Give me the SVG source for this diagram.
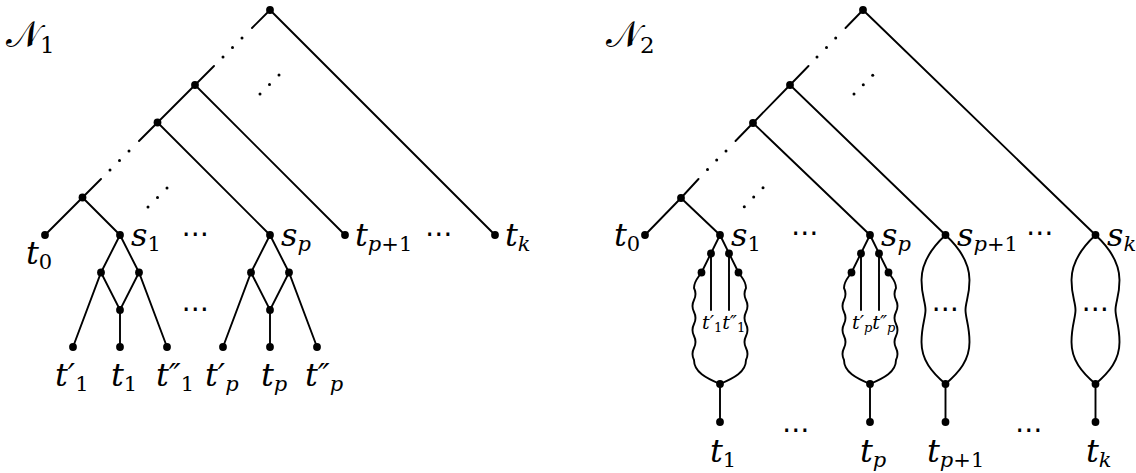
<svg xmlns="http://www.w3.org/2000/svg" width="1136" height="473" viewBox="0 0 1136 473">
<defs>
<style>
.e{stroke:#000;stroke-width:1.9;fill:none;stroke-linecap:round}
.n{fill:#000}
.m{font-family:'DejaVu Serif',serif;font-style:italic;font-size:32px;fill:#000}
.sm{font-family:'DejaVu Serif',serif;font-style:italic;font-size:19px;fill:#000}
.u{font-style:normal}
.cd{font-family:'DejaVu Sans',sans-serif;font-size:28px;fill:#000;text-anchor:middle}
.cal{font-family:'DejaVu Serif','DejaVu Sans',serif;font-size:36px;fill:#000}
.cs{font-family:'DejaVu Serif',serif;font-style:normal;font-size:23px}
</style>
</defs>
<rect width="1136" height="473" fill="#fff"/>

<text class="cal" x="6" y="47">𝒩<tspan class="cs" dy="6">1</tspan></text>
<text class="cal" x="606" y="47">𝒩<tspan class="cs" dy="6">2</tspan></text>

<g id="connectors">
<path class="e" d="M270,10 L495,235 M270,10 L252,28 M214,66 L195,85 L345,235 M195,85 L157.5,122.5 L270,235 M157.5,122.5 L139,141 M101,179 L82.5,197.5 L45,235 M82.5,197.5 L120,235"/>
<path class="e" d="M120,235 L101,272.5 L73,347 M120,235 L139,272.5 L167,347 M101,272.5 L120,310 L139,272.5 M120,310 L120,347"/>
<path class="e" d="M270,235 L251,272.5 L223,347 M270,235 L289,272.5 L317,347 M251,272.5 L270,310 L289,272.5 M270,310 L270,347"/>
<path class="e" d="M863,10 L1095.5,235 M863,10 L845.5,28 M808.5,66 L790,85 L945.5,235 M790,85 L753,123 L870,235 M753,123 L735.5,141 M698.5,179 L681,198 L645,235 M681,198 L720,235"/>
<path class="e" d="M720,235 L701.5,272.5 M720,235 L738.5,272.5 M711,253.5 L711,310 M729,253.5 L729,310 M720,384 L720,422"/>
<path class="e" d="M701.5,272.5 C698,278 694,281 694,288 q3,6 0,12 q-3,6 0,12 q3,6 0,12 q-3,6 0,12 q3,6 0,12 q-3,6 0,12 C694,372 706,378 720,384"/>
<path class="e" d="M738.5,272.5 C742,278 746,281 746,288 q-3,6 0,12 q3,6 0,12 q-3,6 0,12 q3,6 0,12 q-3,6 0,12 q3,6 0,12 C746,372 734,378 720,384"/>
<path class="e" d="M870,235 L851.5,272.5 M870,235 L888.5,272.5 M861,253.5 L861,310 M879,253.5 L879,310 M870,384 L870,422"/>
<path class="e" d="M851.5,272.5 C848,278 844,281 844,288 q3,6 0,12 q-3,6 0,12 q3,6 0,12 q-3,6 0,12 q3,6 0,12 q-3,6 0,12 C844,372 856,378 870,384"/>
<path class="e" d="M888.5,272.5 C892,278 896,281 896,288 q-3,6 0,12 q3,6 0,12 q-3,6 0,12 q3,6 0,12 q-3,6 0,12 q3,6 0,12 C896,372 884,378 870,384"/>
<path class="e" d="M945.5,235 C931.5,248 921.5,262 921.5,280 C921.5,296 925.5,302 925.5,310 C925.5,318 921.5,326 921.5,342 C921.5,360 931.5,372 945.5,384 M945.5,235 C959.5,248 969.5,262 969.5,280 C969.5,296 965.5,302 965.5,310 C965.5,318 969.5,326 969.5,342 C969.5,360 959.5,372 945.5,384 L945.5,422"/>
<path class="e" d="M1095.5,235 C1081.5,248 1071.5,262 1071.5,280 C1071.5,296 1075.5,302 1075.5,310 C1075.5,318 1071.5,326 1071.5,342 C1071.5,360 1081.5,372 1095.5,384 M1095.5,235 C1109.5,248 1119.5,262 1119.5,280 C1119.5,296 1115.5,302 1115.5,310 C1115.5,318 1119.5,326 1119.5,342 C1119.5,360 1109.5,372 1095.5,384 L1095.5,422"/>
</g>

<g id="ellipsis-dots">
<circle class="n" cx="242" cy="38" r="1.5"/><circle class="n" cx="232.5" cy="47.5" r="1.5"/><circle class="n" cx="223" cy="57" r="1.5"/>
<circle class="n" cx="129" cy="151" r="1.5"/><circle class="n" cx="119.5" cy="160.5" r="1.5"/><circle class="n" cx="110" cy="170" r="1.5"/>
<circle class="n" cx="260" cy="94" r="1.5"/><circle class="n" cx="269.5" cy="84.5" r="1.5"/><circle class="n" cx="279" cy="75" r="1.5"/>
<circle class="n" cx="148" cy="207" r="1.5"/><circle class="n" cx="157.5" cy="197.5" r="1.5"/><circle class="n" cx="167" cy="188" r="1.5"/>
<circle class="n" cx="835.7" cy="38" r="1.5"/><circle class="n" cx="826.5" cy="47.5" r="1.5"/><circle class="n" cx="817" cy="57" r="1.5"/>
<circle class="n" cx="726" cy="151" r="1.5"/><circle class="n" cx="716.7" cy="160" r="1.5"/><circle class="n" cx="707.5" cy="169.5" r="1.5"/>
<circle class="n" cx="854" cy="94" r="1.5"/><circle class="n" cx="863.3" cy="84.7" r="1.5"/><circle class="n" cx="872.7" cy="75.3" r="1.5"/>
<circle class="n" cx="744.3" cy="206.7" r="1.5"/><circle class="n" cx="753.7" cy="197" r="1.5"/><circle class="n" cx="763" cy="187.7" r="1.5"/>
</g>

<g id="left-internal">
<circle class="n" cx="270" cy="10" r="3.9"/><circle class="n" cx="195" cy="85" r="3.9"/><circle class="n" cx="157.5" cy="122.5" r="3.9"/><circle class="n" cx="82.5" cy="197.5" r="3.9"/>
</g>
<g id="L-t0"><circle class="n" cx="45" cy="235" r="3.9"/><text class="m" x="26" y="264">t<tspan class="u" font-size="21" dy="5">0</tspan></text></g>
<g id="L-s1"><circle class="n" cx="120" cy="235" r="3.9"/><text class="m" x="131" y="246">s<tspan class="u" font-size="21" dy="5">1</tspan></text></g>
<g id="L-sp"><circle class="n" cx="270" cy="235" r="3.9"/><text class="m" x="281" y="246">s<tspan font-size="21" dy="5">p</tspan></text></g>
<g id="L-tp1"><circle class="n" cx="345" cy="235" r="3.9"/><text class="m" x="355" y="246">t<tspan font-size="21" dy="5">p</tspan><tspan class="u" font-size="21">+1</tspan></text></g>
<g id="L-tk"><circle class="n" cx="495" cy="235" r="3.9"/><text class="m" x="505" y="246">t<tspan font-size="21" dy="5">k</tspan></text></g>
<g id="L-g1">
<circle class="n" cx="101" cy="272.5" r="3.9"/><circle class="n" cx="139" cy="272.5" r="3.9"/><circle class="n" cx="120" cy="310" r="3.9"/>
<circle class="n" cx="73" cy="347" r="3.9"/><circle class="n" cx="120" cy="347" r="3.9"/><circle class="n" cx="167" cy="347" r="3.9"/>
<text class="m" x="55" y="386">t′<tspan class="u" font-size="21" dy="5">1</tspan></text>
<text class="m" x="111" y="386">t<tspan class="u" font-size="21" dy="5">1</tspan></text>
<text class="m" x="156" y="386">t″<tspan class="u" font-size="21" dy="5">1</tspan></text>
</g>
<g id="L-gp">
<circle class="n" cx="251" cy="272.5" r="3.9"/><circle class="n" cx="289" cy="272.5" r="3.9"/><circle class="n" cx="270" cy="310" r="3.9"/>
<circle class="n" cx="223" cy="347" r="3.9"/><circle class="n" cx="270" cy="347" r="3.9"/><circle class="n" cx="317" cy="347" r="3.9"/>
<text class="m" x="205" y="386">t′<tspan font-size="21" dy="5">p</tspan></text>
<text class="m" x="261" y="386">t<tspan font-size="21" dy="5">p</tspan></text>
<text class="m" x="305" y="386">t″<tspan font-size="21" dy="5">p</tspan></text>
</g>
<g id="L-dots">
<text class="cd" x="195.5" y="243">⋯</text>
<text class="cd" x="195.5" y="318">⋯</text>
<text class="cd" x="439" y="243">⋯</text>
</g>

<g id="right-internal">
<circle class="n" cx="863" cy="10" r="3.9"/><circle class="n" cx="790" cy="85" r="3.9"/><circle class="n" cx="753" cy="123" r="3.9"/><circle class="n" cx="681" cy="198" r="3.9"/>
</g>
<g id="R-t0"><circle class="n" cx="645" cy="235" r="3.9"/><text class="m" x="614" y="246">t<tspan class="u" font-size="21" dy="5">0</tspan></text></g>
<g id="R-s1">
<circle class="n" cx="720" cy="235" r="3.9"/><text class="m" x="731" y="246">s<tspan class="u" font-size="21" dy="5">1</tspan></text>
<circle class="n" cx="711" cy="253.5" r="3.9"/><circle class="n" cx="729" cy="253.5" r="3.9"/><circle class="n" cx="701.5" cy="272.5" r="3.9"/><circle class="n" cx="738.5" cy="272.5" r="3.9"/>
<circle class="n" cx="720" cy="384" r="3.9"/><circle class="n" cx="720" cy="422" r="3.9"/>
<text class="sm" x="702" y="329">t′<tspan class="u" font-size="13" dy="3">1</tspan><tspan dy="-3">t″</tspan><tspan class="u" font-size="13" dy="3">1</tspan></text>
<text class="m" x="710" y="462">t<tspan class="u" font-size="21" dy="5">1</tspan></text>
</g>
<g id="R-sp">
<circle class="n" cx="870" cy="235" r="3.9"/><text class="m" x="881" y="246">s<tspan font-size="21" dy="5">p</tspan></text>
<circle class="n" cx="861" cy="253.5" r="3.9"/><circle class="n" cx="879" cy="253.5" r="3.9"/><circle class="n" cx="851.5" cy="272.5" r="3.9"/><circle class="n" cx="888.5" cy="272.5" r="3.9"/>
<circle class="n" cx="870" cy="384" r="3.9"/><circle class="n" cx="870" cy="422" r="3.9"/>
<text class="sm" x="852" y="329">t′<tspan font-size="13" dy="3">p</tspan><tspan dy="-3">t″</tspan><tspan font-size="13" dy="3">p</tspan></text>
<text class="m" x="860" y="462">t<tspan font-size="21" dy="5">p</tspan></text>
</g>
<g id="R-sp1">
<circle class="n" cx="945.5" cy="235" r="3.9"/><text class="m" x="957" y="246">s<tspan font-size="21" dy="5">p</tspan><tspan class="u" font-size="21">+1</tspan></text>
<circle class="n" cx="945.5" cy="384" r="3.9"/><circle class="n" cx="945.5" cy="422" r="3.9"/>
<text class="cd" x="945.5" y="318">⋯</text>
<text class="m" x="927" y="462">t<tspan font-size="21" dy="5">p</tspan><tspan class="u" font-size="21">+1</tspan></text>
</g>
<g id="R-sk">
<circle class="n" cx="1095.5" cy="235" r="3.9"/><text class="m" x="1107" y="246">s<tspan font-size="21" dy="5">k</tspan></text>
<circle class="n" cx="1095.5" cy="384" r="3.9"/><circle class="n" cx="1095.5" cy="422" r="3.9"/>
<text class="cd" x="1095.5" y="318">⋯</text>
<text class="m" x="1086" y="462">t<tspan font-size="21" dy="5">k</tspan></text>
</g>
<g id="R-dots">
<text class="cd" x="805" y="242">⋯</text>
<text class="cd" x="796" y="439">⋯</text>
<text class="cd" x="1040" y="242">⋯</text>
<text class="cd" x="1029" y="439">⋯</text>
</g>
</svg>
